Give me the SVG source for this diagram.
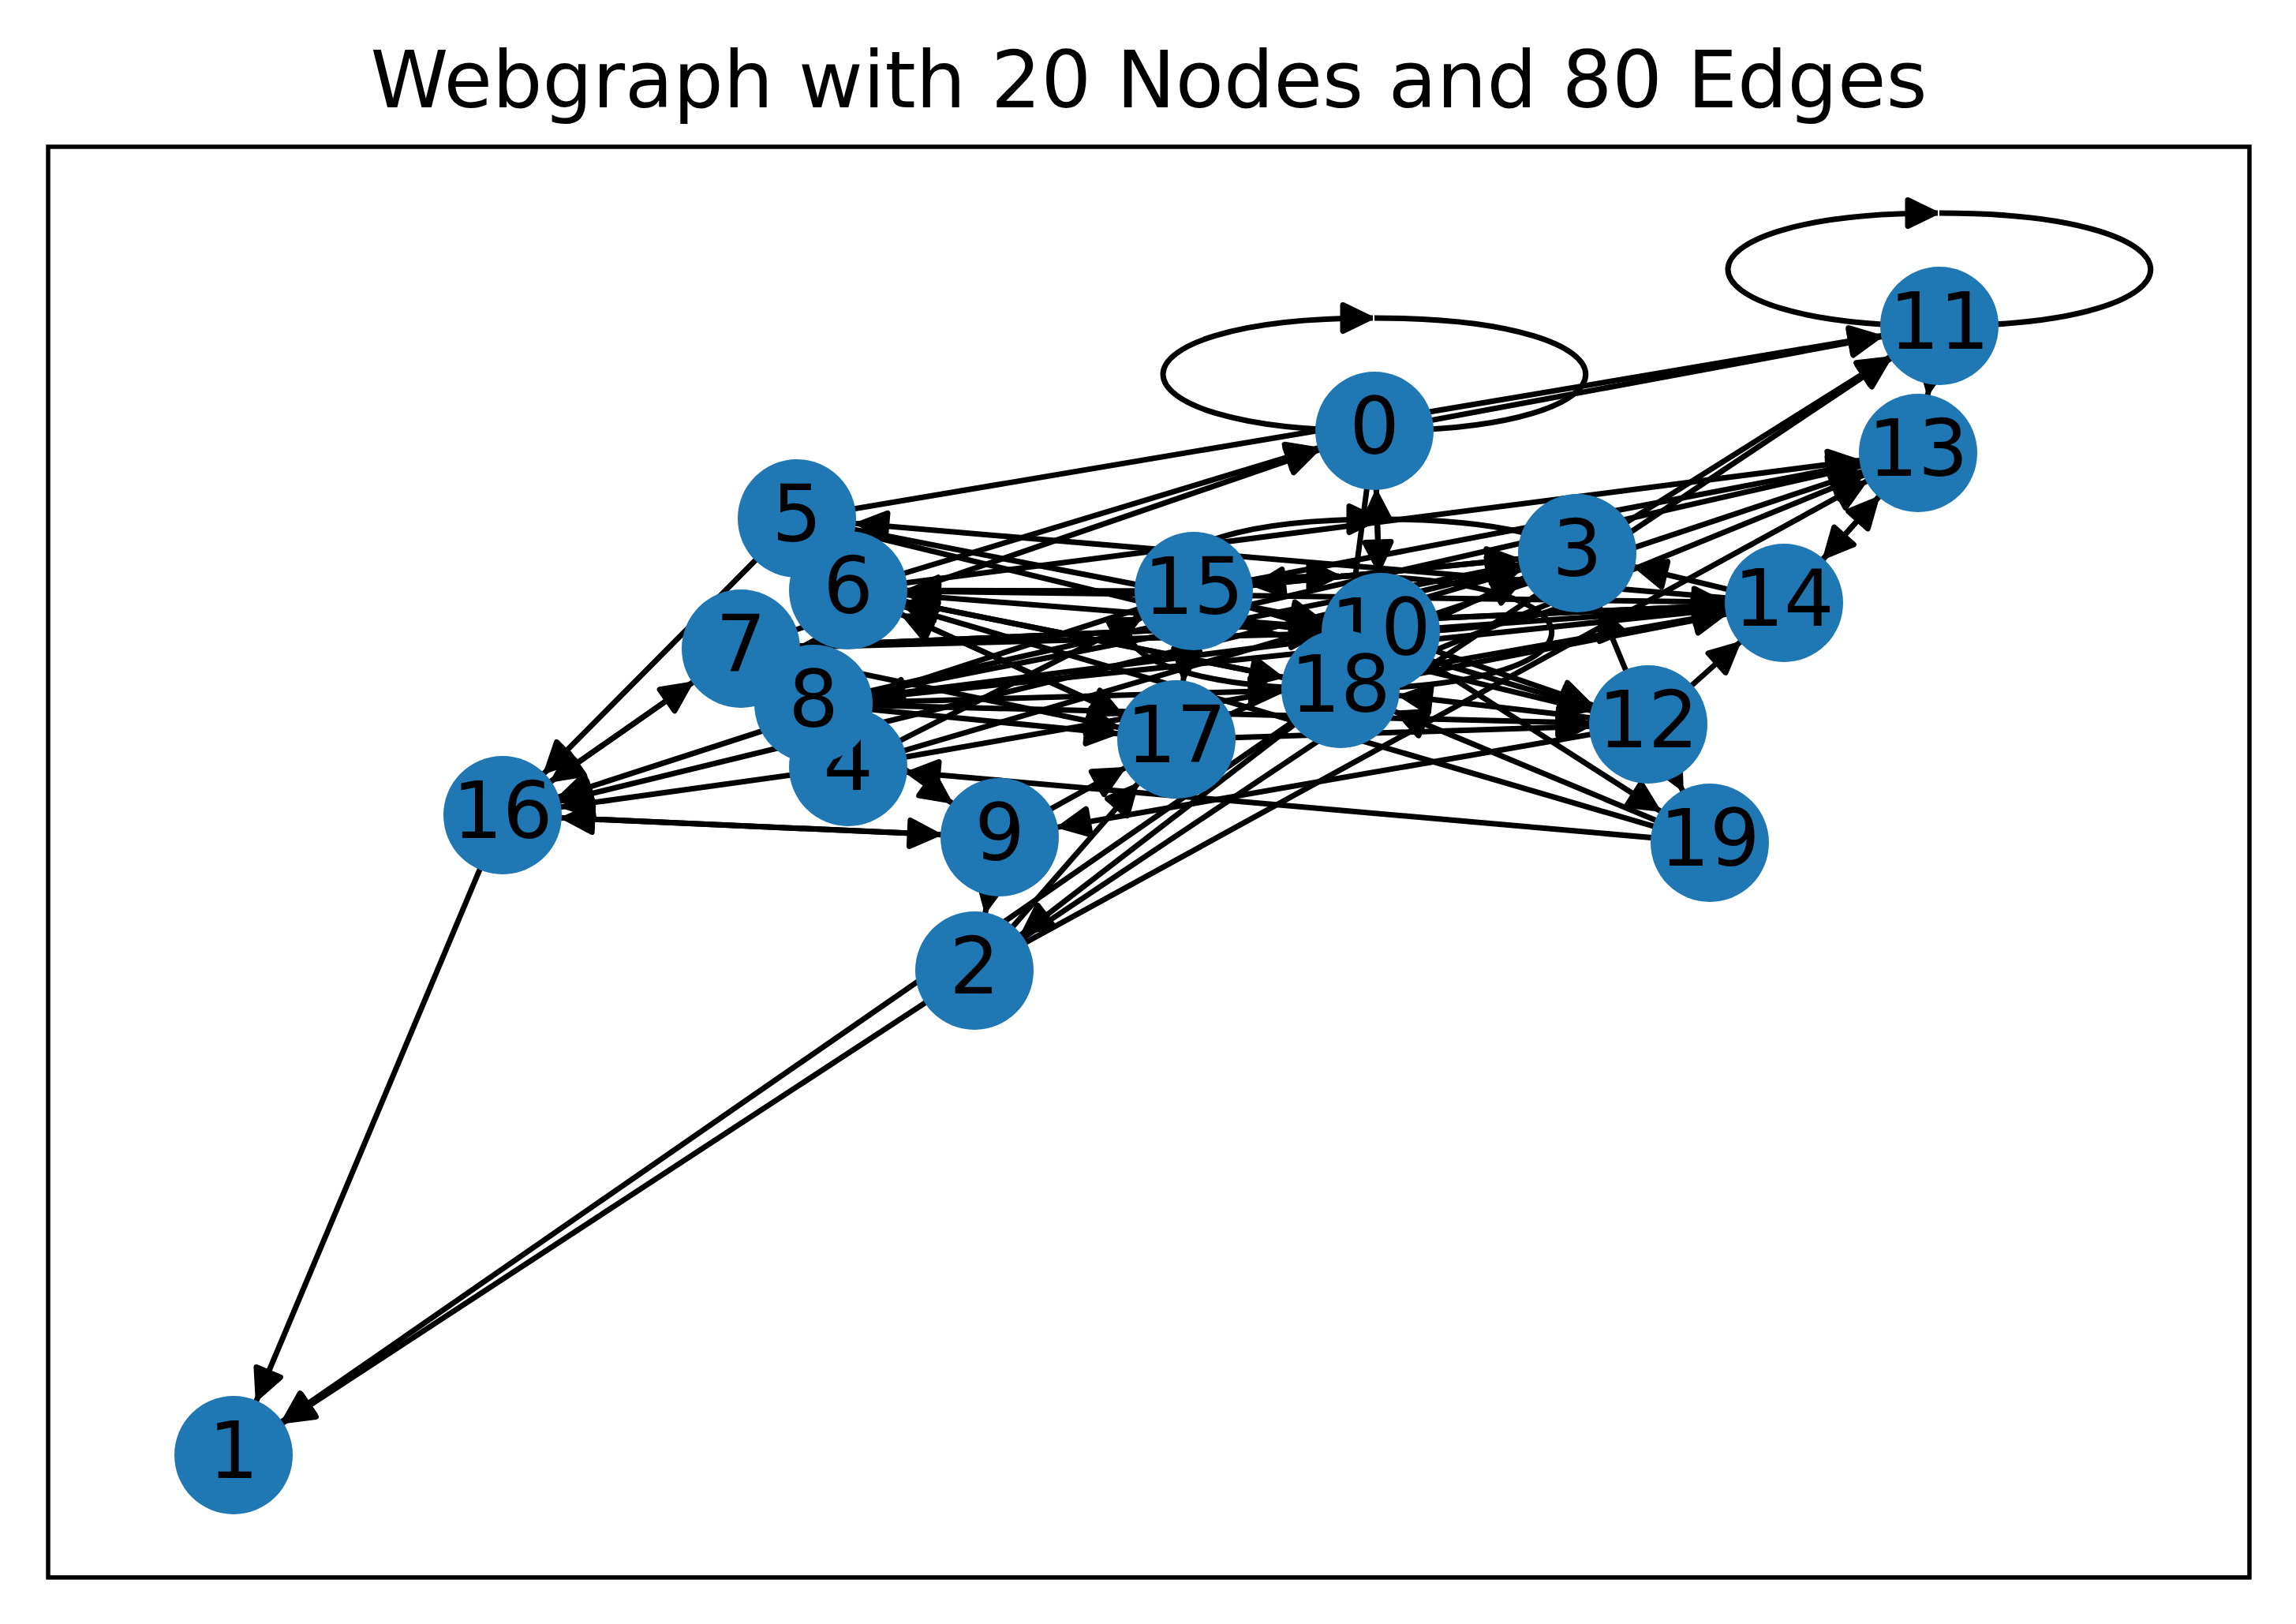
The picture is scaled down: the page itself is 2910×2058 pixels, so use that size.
<svg xmlns="http://www.w3.org/2000/svg" width="2910" height="2058" viewBox="0 0 2910 2058">
<style>
.e{stroke:#000;stroke-width:7;fill:none;marker-end:url(#ah)}
.l{stroke:#000;stroke-width:7;fill:none;marker-end:url(#al)}
.n circle{fill:#1f77b4}
.n text{font-family:"DejaVu Sans",sans-serif;font-size:100px;text-anchor:middle;fill:#000}
</style>
<defs>
<marker id="ah" markerUnits="userSpaceOnUse" viewBox="-125 -25 130 50" refX="0" refY="0" markerWidth="130" markerHeight="50" orient="auto">
<path d="M-114,-16.5 L-80,0 L-114,16.5 Z" fill="#000" stroke="#000" stroke-width="7" stroke-linejoin="round"/>
</marker>
<marker id="al" markerUnits="userSpaceOnUse" viewBox="-45 -25 50 50" refX="0" refY="0" markerWidth="50" markerHeight="50" orient="auto">
<path d="M-38,-16.5 L-4,0 L-38,16.5 Z" fill="#000" stroke="#000" stroke-width="7" stroke-linejoin="round"/>
</marker>
</defs>
<rect width="2910" height="2058" fill="#fff"/>
<text x="1456" y="136" font-family="DejaVu Sans, sans-serif" font-size="100" text-anchor="middle">Webgraph with 20 Nodes and 80 Edges</text>
<rect x="61" y="186" width="2790" height="1813" fill="none" stroke="#000" stroke-width="5.5"/>
<g id="edges">
<path class="l" d="M1742,403 C2099,403 2099,546 1742,546 C1385,546 1385,403 1740,403"/>
<path class="l" d="M1750,658 C2107,658 2107,801 1750,801 C1393,801 1393,658 1748,658"/>
<path class="l" d="M2458,270 C2815,270 2815,413 2458,413 C2101,413 2101,270 2456,270"/>
<path class="l" d="M1699,730 C2056,730 2056,873 1699,873 C1342,873 1342,730 1697,730"/>
<line class="e" x1="1742" y1="546" x2="2458" y2="413"/>
<line class="e" x1="1742" y1="546" x2="1750" y2="801"/>
<line class="e" x1="1742" y1="546" x2="1699" y2="873"/>
<line class="e" x1="1010" y1="657" x2="2458" y2="413"/>
<line class="e" x1="1010" y1="657" x2="637" y2="1033"/>
<line class="e" x1="1010" y1="657" x2="2089" y2="918"/>
<line class="e" x1="1075" y1="748" x2="1742" y2="546"/>
<line class="e" x1="1075" y1="748" x2="2431" y2="574"/>
<line class="e" x1="1075" y1="748" x2="2261" y2="764"/>
<line class="e" x1="1075" y1="748" x2="1491" y2="937"/>
<line class="e" x1="1075" y1="748" x2="1699" y2="873"/>
<line class="e" x1="939" y1="822" x2="1742" y2="546"/>
<line class="e" x1="939" y1="822" x2="637" y2="1033"/>
<line class="e" x1="939" y1="822" x2="1750" y2="801"/>
<line class="e" x1="939" y1="822" x2="2261" y2="764"/>
<line class="e" x1="939" y1="822" x2="1491" y2="937"/>
<line class="e" x1="1031" y1="892" x2="1267" y2="1061"/>
<line class="e" x1="1031" y1="892" x2="2261" y2="764"/>
<line class="e" x1="1031" y1="892" x2="1999" y2="701"/>
<line class="e" x1="1031" y1="892" x2="2431" y2="574"/>
<line class="e" x1="1031" y1="892" x2="1491" y2="937"/>
<line class="e" x1="1031" y1="892" x2="2089" y2="918"/>
<line class="e" x1="1075" y1="972" x2="637" y2="1033"/>
<line class="e" x1="1075" y1="972" x2="1513" y2="749"/>
<line class="e" x1="1075" y1="972" x2="1999" y2="701"/>
<line class="e" x1="1075" y1="972" x2="2261" y2="764"/>
<line class="e" x1="1267" y1="1061" x2="637" y2="1033"/>
<line class="e" x1="1267" y1="1061" x2="1491" y2="937"/>
<line class="e" x1="1267" y1="1061" x2="1235" y2="1230"/>
<line class="e" x1="1750" y1="801" x2="1742" y2="546"/>
<line class="e" x1="1010" y1="657" x2="1750" y2="801"/>
<line class="e" x1="1750" y1="801" x2="2431" y2="574"/>
<line class="e" x1="1750" y1="801" x2="2261" y2="764"/>
<line class="e" x1="1750" y1="801" x2="2089" y2="918"/>
<line class="e" x1="1750" y1="801" x2="1075" y2="748"/>
<line class="e" x1="1750" y1="801" x2="1031" y2="892"/>
<line class="e" x1="1750" y1="801" x2="2167" y2="1068"/>
<line class="e" x1="2089" y1="918" x2="1267" y2="1061"/>
<line class="e" x1="2089" y1="918" x2="2261" y2="764"/>
<line class="e" x1="2089" y1="918" x2="1999" y2="701"/>
<line class="e" x1="2089" y1="918" x2="1699" y2="873"/>
<line class="e" x1="2089" y1="918" x2="2167" y2="1068"/>
<line class="e" x1="2431" y1="574" x2="2261" y2="764"/>
<line class="e" x1="2458" y1="413" x2="2431" y2="574"/>
<line class="e" x1="2261" y1="764" x2="2431" y2="574"/>
<line class="e" x1="2261" y1="764" x2="1010" y2="657"/>
<line class="e" x1="2261" y1="764" x2="1999" y2="701"/>
<line class="e" x1="2261" y1="764" x2="939" y2="822"/>
<line class="e" x1="1513" y1="749" x2="637" y2="1033"/>
<line class="e" x1="1513" y1="749" x2="2431" y2="574"/>
<line class="e" x1="1513" y1="749" x2="2089" y2="918"/>
<line class="e" x1="1513" y1="749" x2="1999" y2="701"/>
<line class="e" x1="1513" y1="749" x2="1075" y2="748"/>
<line class="e" x1="637" y1="1033" x2="939" y2="822"/>
<line class="e" x1="637" y1="1033" x2="1267" y2="1061"/>
<line class="e" x1="637" y1="1033" x2="296" y2="1844"/>
<line class="e" x1="1491" y1="937" x2="2089" y2="918"/>
<line class="e" x1="1491" y1="937" x2="1999" y2="701"/>
<line class="e" x1="1491" y1="937" x2="1075" y2="748"/>
<line class="e" x1="1513" y1="749" x2="1491" y2="937"/>
<line class="e" x1="1699" y1="873" x2="296" y2="1844"/>
<line class="e" x1="1699" y1="873" x2="2431" y2="574"/>
<line class="e" x1="1699" y1="873" x2="1075" y2="748"/>
<line class="e" x1="1031" y1="892" x2="1699" y2="873"/>
<line class="e" x1="1699" y1="873" x2="2261" y2="764"/>
<line class="e" x1="2167" y1="1068" x2="1075" y2="972"/>
<line class="e" x1="2167" y1="1068" x2="1699" y2="873"/>
<line class="e" x1="2167" y1="1068" x2="1075" y2="748"/>
<line class="e" x1="1235" y1="1230" x2="296" y2="1844"/>
<line class="e" x1="1235" y1="1230" x2="2431" y2="574"/>
<line class="e" x1="1235" y1="1230" x2="1491" y2="937"/>
<line class="e" x1="1699" y1="873" x2="1235" y2="1230"/>
<line class="e" x1="1235" y1="1230" x2="2458" y2="413"/>
<line class="e" x1="1999" y1="701" x2="2458" y2="413"/>
<line class="e" x1="1999" y1="701" x2="637" y2="1033"/>
<line class="e" x1="1999" y1="701" x2="1513" y2="749"/>
</g>
<g id="node0" class="n"><circle cx="1742" cy="546" r="75"/><text x="1742" y="575">0</text></g>
<g id="node1" class="n"><circle cx="296" cy="1844" r="75"/><text x="296" y="1873">1</text></g>
<g id="node2" class="n"><circle cx="1235" cy="1230" r="75"/><text x="1235" y="1259">2</text></g>
<g id="node3" class="n"><circle cx="1999" cy="701" r="75"/><text x="1999" y="730">3</text></g>
<g id="node4" class="n"><circle cx="1075" cy="972" r="75"/><text x="1075" y="1001">4</text></g>
<g id="node5" class="n"><circle cx="1010" cy="657" r="75"/><text x="1010" y="686">5</text></g>
<g id="node6" class="n"><circle cx="1075" cy="748" r="75"/><text x="1075" y="777">6</text></g>
<g id="node7" class="n"><circle cx="939" cy="822" r="75"/><text x="939" y="851">7</text></g>
<g id="node8" class="n"><circle cx="1031" cy="892" r="75"/><text x="1031" y="921">8</text></g>
<g id="node9" class="n"><circle cx="1267" cy="1061" r="75"/><text x="1267" y="1090">9</text></g>
<g id="node10" class="n"><circle cx="1750" cy="801" r="75"/><text x="1750" y="830">10</text></g>
<g id="node11" class="n"><circle cx="2458" cy="413" r="75"/><text x="2458" y="442">11</text></g>
<g id="node12" class="n"><circle cx="2089" cy="918" r="75"/><text x="2089" y="947">12</text></g>
<g id="node13" class="n"><circle cx="2431" cy="574" r="75"/><text x="2431" y="603">13</text></g>
<g id="node14" class="n"><circle cx="2261" cy="764" r="75"/><text x="2261" y="793">14</text></g>
<g id="node15" class="n"><circle cx="1513" cy="749" r="75"/><text x="1513" y="778">15</text></g>
<g id="node16" class="n"><circle cx="637" cy="1033" r="75"/><text x="637" y="1062">16</text></g>
<g id="node17" class="n"><circle cx="1491" cy="937" r="75"/><text x="1491" y="966">17</text></g>
<g id="node18" class="n"><circle cx="1699" cy="873" r="75"/><text x="1699" y="902">18</text></g>
<g id="node19" class="n"><circle cx="2167" cy="1068" r="75"/><text x="2167" y="1097">19</text></g>
</svg>
